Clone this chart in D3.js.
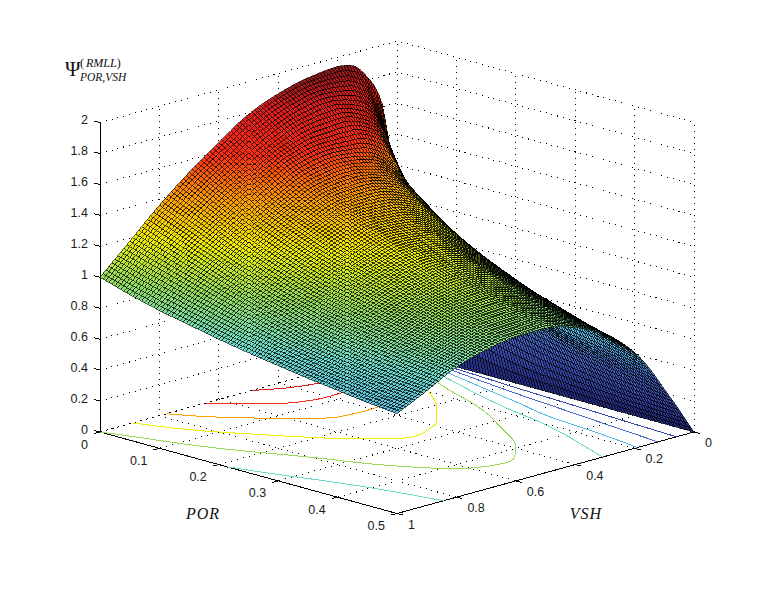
<!DOCTYPE html>
<html><head><meta charset="utf-8">
<script src="https://cdn.jsdelivr.net/npm/d3@7"></script>
<style>html,body{margin:0;background:#fff}svg{display:block}</style>
</head><body><svg id="c" width="768" height="600"></svg>
<script>
// Psi values (silhouette, edges, floor contours) at these knots.
// The 100x100 drawn mesh is a smooth resampling of this table, for drawing only: it adds no readings.
const porKnots=[0,.025,.05,.075,.1,.15,.2,.25,.3,.35,.4,.45,.5];
const vshKnots=[1,.9,.8,.7,.6,.5,.4,.3,.2,.15,.1,.05,.025,0];
const psiPor000=[1,1.18,1.36,1.52,1.66,1.79,1.87,1.92,1.94,1.92,1.82,1.62,1.2,0];
const psiPor025=[.97,1.15,1.32,1.47,1.60,1.72,1.80,1.84,1.81,1.74,1.55,1.15,.8,0];
const psiPor050=[.94,1.12,1.28,1.42,1.54,1.65,1.72,1.74,1.67,1.56,1.30,.92,.6,0];
const psiPor075=[.915,1.09,1.24,1.37,1.49,1.59,1.63,1.63,1.54,1.37,1.12,.78,.48,0];
const psiPor100=[.89,1.06,1.2,1.32,1.43,1.52,1.55,1.52,1.38,1.22,1.0,.64,.38,0];
const psiPor150=[.85,1.0,1.125,1.24,1.34,1.41,1.42,1.37,1.21,1.03,.80,.47,.26,0];
const psiPor200=[.81,.945,1.06,1.17,1.26,1.32,1.31,1.24,1.07,.88,.65,.37,.19,0];
const psiPor250=[.775,.895,1.005,1.11,1.19,1.24,1.22,1.13,.96,.76,.55,.31,.155,0];
const psiPor300=[.745,.85,.96,1.06,1.13,1.17,1.14,1.04,.87,.645,.49,.265,.135,0];
const psiPor350=[.715,.815,.925,1.01,1.07,1.10,1.07,.965,.79,.585,.44,.235,.115,0];
const psiPor400=[.69,.785,.895,.97,1.02,1.04,1.0,.90,.73,.55,.40,.205,.1,0];
const psiPor450=[.665,.76,.865,.935,.975,.985,.94,.84,.67,.52,.365,.185,.09,0];
const psiPor500=[.645,.74,.84,.90,.93,.935,.885,.79,.62,.49,.33,.17,.085,0];
const psiRows=[psiPor000,psiPor025,psiPor050,psiPor075,psiPor100,psiPor150,psiPor200,psiPor250,psiPor300,psiPor350,psiPor400,psiPor450,psiPor500];
const porTicks=[0,.1,.2,.3,.4,.5];
const vshTicks=[0,.2,.4,.6,.8,1];
const psiTicks=[0,.2,.4,.6,.8,1,1.2,1.4,1.6,1.8,2];
const contourLevels=[.2,.4,.6,.8,1,1.2,1.4,1.6,1.8];
const colorStops=[0,.2,.4,.6,.8,1,1.2,1.4,1.6,1.8,2];
const colorValues=["#1e2878","#3a48aa","#4a6cc8","#5ab9eb","#6edcc8","#96dc5a","#f0f000","#ffa000","#fa2d14","#dc1e1e","#5a1419"];

const svg=d3.select("#c");
const por=d3.scaleLinear().domain([0,.5]).range([0,1]);
const vsh=d3.scaleLinear().domain([1,0]).range([0,1]);
const zpx=d3.scaleLinear().domain([0,2]).range([0,309.5]);
const color=d3.scaleLinear().domain(colorStops).range(colorValues).clamp(true);
const X0=100,Y0=432,W=297,D=81.5;
function proj(P,V,Z){const p=por(P),t=vsh(V);return [X0+W*(p+t),Y0+D*(p-t)-zpx(Z)];}

function pchip(xs,ys,x){
  const n=xs.length,h=[],s=[];
  for(let i=0;i<n-1;i++){h[i]=xs[i+1]-xs[i];s[i]=(ys[i+1]-ys[i])/h[i];}
  const m=new Array(n);m[0]=s[0];m[n-1]=s[n-2];
  for(let i=1;i<n-1;i++){
    if(s[i-1]*s[i]<=0)m[i]=0;
    else{const a=h[i-1]+2*h[i],b=2*h[i-1]+h[i];m[i]=(a+b)/(a/s[i-1]+b/s[i]);}
  }
  let k=Math.max(0,Math.min(n-2,d3.bisectRight(xs,x)-1));
  const u=(x-xs[k])/h[k],u2=u*u,u3=u2*u;
  return (2*u3-3*u2+1)*ys[k]+(u3-2*u2+u)*h[k]*m[k]+(-2*u3+3*u2)*ys[k+1]+(u3-u2)*h[k]*m[k+1];
}
const N=100;
const tKnots=vshKnots.map(v=>vsh(v));
const pKnots=porKnots.map(v=>por(v));
const mesh=[];
for(let i=0;i<=N;i++){mesh[i]=[];}
for(let j=0;j<=N;j++){
  const col=psiRows.map(r=>pchip(tKnots,r,j/N));
  for(let i=0;i<=N;i++)mesh[i][j]=Math.max(0,pchip(pKnots,col,i/N));
}
const P=i=>por.invert(i/N),V=j=>vsh.invert(j/N);

const crisp=g=>g.attr("shape-rendering","crispEdges");
const line=d3.line();
const grid=svg.append("g").call(crisp).attr("fill","none").attr("stroke","#000").attr("stroke-dasharray","1 5");
function seg(g,pts){g.append("path").attr("d",line(pts));}
psiTicks.forEach(z=>{seg(grid,[proj(0,1,z),proj(0,0,z),proj(.5,0,z)]);});
vshTicks.forEach(v=>{seg(grid,[proj(0,v,0),proj(0,v,2)]);seg(grid,[proj(0,v,0),proj(.5,v,0)]);});
porTicks.forEach(q=>{seg(grid,[proj(q,0,0),proj(q,0,2)]);seg(grid,[proj(q,0,0),proj(q,1,0)]);});

const ax=svg.append("g").call(crisp).attr("fill","none").attr("stroke","#000");
seg(ax,[proj(0,1,0),proj(.5,1,0),proj(.5,0,0)]);
seg(ax,[proj(0,1,0),proj(0,1,2)]);
const lab=svg.append("g").attr("font-family","Liberation Sans, Arial, sans-serif").attr("font-size","12.5px").attr("fill","#1a1a1a");
psiTicks.forEach(z=>{const a=proj(0,1,z);seg(ax,[a,[a[0]-6,a[1]-1.5]]);
  lab.append("text").attr("x",88).attr("y",a[1]-3).attr("dy",".36em").attr("text-anchor","end").text(z);});
porTicks.forEach(q=>{const a=proj(q,1,0);seg(ax,[a,[a[0]-6,a[1]+1.5]]);
  lab.append("text").attr("x",a[0]-12).attr("y",a[1]+12).attr("dy",".36em").attr("text-anchor","end").text(q);});
vshTicks.forEach(v=>{const a=proj(.5,v,0);seg(ax,[a,[a[0]+6,a[1]+1.5]]);
  lab.append("text").attr("x",a[0]+11).attr("y",a[1]+10.5).attr("dy",".36em").attr("text-anchor","start").text(v);});

// floor contours
const flat=[];for(let j=0;j<=N;j++)for(let i=0;i<=N;i++)flat.push(mesh[i][j]);
const cgen=d3.contours().size([N+1,N+1]).smooth(true).thresholds(contourLevels);
const cg=svg.append("g").call(crisp).attr("fill","none").attr("stroke-width",1);
cgen(flat).forEach(c=>{
  c.coordinates.forEach(poly=>poly.forEach(ring=>{
    let cur=[];const flush=()=>{if(cur.length>1)cg.append("path").attr("d",line(cur)).attr("stroke",color(c.value));cur=[];};
    ring.forEach(([x,y])=>{
      if(x<=0||x>=N+1||y<=0||y>=N+1){flush();return;}
      cur.push(proj(P(x-.5),V(y-.5),0));
    });flush();
  }));
});

// surface, back to front
const cells=[];
for(let i=0;i<N;i++)for(let j=N-1;j>=0;j--)cells.push({i,j});
svg.append("g").call(crisp).attr("stroke","#000").attr("stroke-width",.6)
 .selectAll("path").data(cells).join("path")
 .attr("fill",d=>color((mesh[d.i][d.j]+mesh[d.i+1][d.j]+mesh[d.i][d.j+1]+mesh[d.i+1][d.j+1])/4))
 .attr("d",({i,j})=>line([proj(P(i),V(j),mesh[i][j]),proj(P(i+1),V(j),mesh[i+1][j]),proj(P(i+1),V(j+1),mesh[i+1][j+1]),proj(P(i),V(j+1),mesh[i][j+1])])+"Z");

// titles
const serif=svg.append("g").attr("font-family","Liberation Serif, Times New Roman, serif").attr("fill","#111");
serif.append("text").attr("x",203).attr("y",519).attr("text-anchor","middle").attr("font-size","16px").attr("font-style","italic").attr("letter-spacing","1px").text("POR");
serif.append("text").attr("x",586).attr("y",519).attr("text-anchor","middle").attr("font-size","16px").attr("font-style","italic").attr("letter-spacing","1px").text("VSH");
serif.append("text").attr("x",65).attr("y",76).attr("font-size","21px").text("Ψ");
const sup=serif.append("text").attr("x",80).attr("y",67).attr("font-size","12px");
sup.append("tspan").text("(");sup.append("tspan").attr("font-style","italic").attr("dx","2").text("RMLL");sup.append("tspan").text(")");
serif.append("text").attr("x",80).attr("y",81).attr("font-size","11.5px").attr("font-style","italic").text("POR,VSH");
</script></body></html>
